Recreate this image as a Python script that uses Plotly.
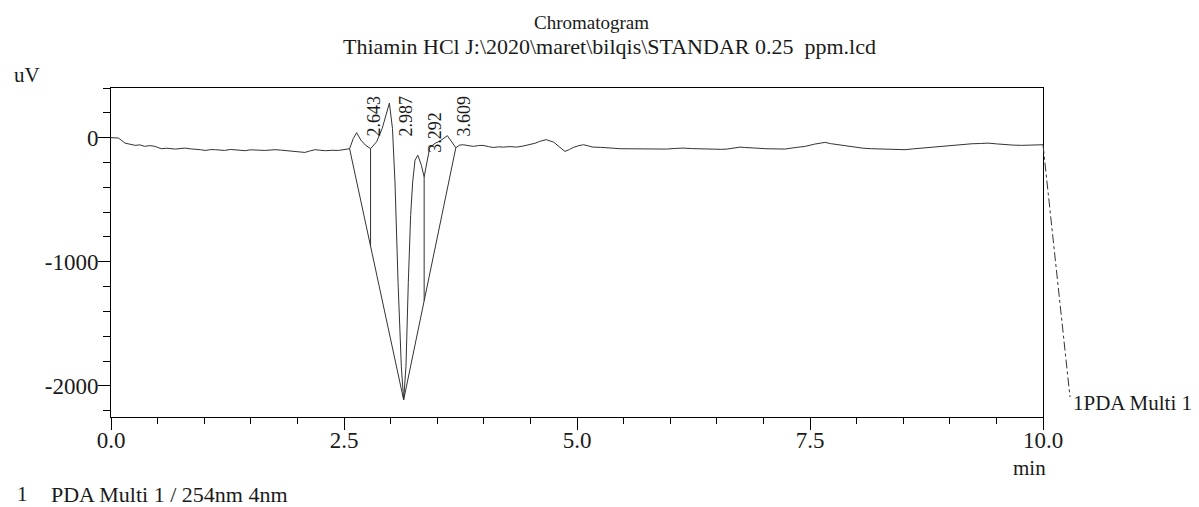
import plotly.graph_objects as go

# ---------------- data ----------------
signal_t = [0.00, 0.05, 0.08, 0.15, 0.20, 0.26, 0.31, 0.36, 0.42, 0.47, 0.54, 0.60, 0.69, 0.74, 0.79,
            0.85, 0.90, 0.96, 1.01, 1.07, 1.12, 1.17, 1.22, 1.28, 1.33, 1.38, 1.44, 1.49, 1.55, 1.60,
            1.65, 1.71, 1.76, 1.82, 1.87, 1.92, 1.97, 2.03, 2.08, 2.13, 2.19, 2.24, 2.30, 2.37, 2.44,
            2.50, 2.56, 2.60, 2.636, 2.68, 2.73, 2.785, 2.85, 2.91, 2.95, 2.987, 3.02, 3.047, 3.08,
            3.115, 3.14, 3.165, 3.19, 3.215, 3.237, 3.262, 3.292, 3.33, 3.36, 3.39, 3.42, 3.476, 3.53,
            3.609, 3.655, 3.70, 3.74, 3.78, 3.84, 3.89, 3.94, 3.99, 4.05, 4.10, 4.16, 4.21, 4.28, 4.35,
            4.42, 4.50, 4.55, 4.60, 4.67, 4.75, 4.82, 4.87, 4.92, 4.96, 5.02, 5.07, 5.12, 5.17, 5.25,
            5.32, 5.39, 5.46, 5.53, 5.60, 5.69, 5.78, 5.87, 5.96, 6.05, 6.14, 6.23, 6.32, 6.41, 6.50,
            6.55, 6.61, 6.68, 6.75, 6.80, 6.86, 6.94, 7.02, 7.12, 7.23, 7.34, 7.45, 7.55, 7.66, 7.72,
            7.80, 7.89, 7.98, 8.07, 8.16, 8.25, 8.34, 8.43, 8.52, 8.61, 8.70, 8.79, 8.88, 8.97, 9.06,
            9.15, 9.24, 9.33, 9.41, 9.50, 9.59, 9.68, 9.77, 9.88, 10.00]
signal_uv = [0, 0, -3, -44, -55, -62, -58, -70, -64, -70, -89, -85, -92, -86, -84,
             -90, -92, -97, -103, -96, -97, -101, -103, -95, -97, -102, -105, -98, -97, -101,
             -103, -99, -97, -100, -103, -106, -111, -115, -119, -108, -97, -101, -105, -102, -103,
             -96, -89, -6, 40, -19, -60, -89, -33, 75, 183, 278, 75, -356, -1166,
             -1842, -2112, -1842, -1166, -627, -356, -181, -141, -222, -316, -194, -80, -46, -27,
             16, -33, -81, -60, -57, -65, -70, -64, -62, -72, -79, -74, -76, -72, -76,
             -68, -57, -45, -30, -16, -36, -84, -111, -95, -79, -64, -57, -66, -76, -78,
             -79, -85, -89, -90, -92, -88, -89, -93, -92, -87, -84, -88, -89, -94, -97,
             -94, -92, -84, -76, -79, -79, -85, -89, -90, -92, -80, -70, -52, -38, -48,
             -57, -70, -79, -85, -89, -90, -92, -94, -97, -90, -84, -76, -70, -63, -57,
             -52, -49, -47, -44, -50, -57, -60, -62, -58, -57]

# integration baselines and peak drop lines
baseline_t = [2.56, 3.14, 3.70]
baseline_uv = [-89, -2112, -81]
drop_t = [2.785, 3.36]
drop_top_uv = [-89, -316]
drop_bottom_uv = [-874, -1314]

# peak labels
peak_times = [2.643, 2.987, 3.292, 3.609]
peak_labels = ["2.643", "2.987", "3.292", "3.609"]

x_ticks = [0.0, 2.5, 5.0, 7.5, 10.0]
y_ticks = [0, -1000, -2000]

title_line1 = "Chromatogram"
title_line2 = "Thiamin HCl J:\\2020\\maret\\bilqis\\STANDAR 0.25  ppm.lcd"
channel_label = "1PDA Multi 1"
footer_num = "1"
footer_text = "PDA Multi 1 / 254nm 4nm"

# ---------------- layout geometry ----------------
W, H = 1199, 507
L, R, T, B = 111, 1043, 88, 417
X_RANGE = [0, 10]
Y_RANGE = [-2250, 400]
FONT = "Liberation Serif, Times New Roman, serif"
INK = "#1a1a1a"
LINE = "#333333"


def px_x(p):
    return (p - L) / (R - L)


def px_y(p):
    return (B - p) / (B - T)


fig = go.Figure()

# signal
fig.add_trace(go.Scatter(x=signal_t, y=signal_uv, mode="lines",
                         line=dict(color=LINE, width=1), hoverinfo="skip"))
# integration baselines
fig.add_trace(go.Scatter(x=baseline_t, y=baseline_uv, mode="lines",
                         line=dict(color=LINE, width=1), hoverinfo="skip"))
# drop lines
for t, top, bot in zip(drop_t, drop_top_uv, drop_bottom_uv):
    fig.add_trace(go.Scatter(x=[t, t], y=[top, bot], mode="lines",
                             line=dict(color=LINE, width=1), hoverinfo="skip"))

# peak labels (rotated)
label_y = [173, 173, 47, 173]
for t, lab, ly in zip(peak_times, peak_labels, label_y):
    fig.add_annotation(x=t, y=ly, xref="x", yref="y", text=lab, showarrow=False,
                       textangle=-90, xanchor="center", yanchor="middle", xshift=17,
                       font=dict(family=FONT, size=18, color=INK))

# dash-dot leader to channel label
end_paper_y = (signal_uv[-1] - Y_RANGE[0]) / (Y_RANGE[1] - Y_RANGE[0])
fig.add_shape(type="line", xref="paper", yref="paper",
              x0=1.0, y0=end_paper_y, x1=px_x(1070), y1=px_y(397),
              line=dict(color=LINE, width=1, dash="dashdot"))


# texts
def txt(x, y, s, size, xanchor="center"):
    fig.add_annotation(x=px_x(x), y=px_y(y), xref="paper", yref="paper", text=s,
                       showarrow=False, xanchor=xanchor, yanchor="middle",
                       font=dict(family=FONT, size=size, color=INK))


txt(591, 22, title_line1, 19)
txt(609, 46, title_line2, 22)
txt(12, 75, "uV", 21, "left")
txt(1029, 468, "min", 21)
txt(1071, 403, channel_label, 21, "left")
txt(15, 494, footer_num, 21, "left")
txt(49, 494, footer_text, 22, "left")

fig.update_layout(
    width=W, height=H,
    margin=dict(l=L, r=W - R, t=T, b=H - B, pad=0),
    paper_bgcolor="white", plot_bgcolor="white",
    showlegend=False,
    font=dict(family=FONT, size=20, color=INK),
)
fig.update_xaxes(range=X_RANGE, tickvals=x_ticks, ticktext=[f"{v:.1f}" for v in x_ticks],
                 showgrid=False, zeroline=False,
                 showline=True, mirror=True, linecolor="black", linewidth=1,
                 ticks="outside", ticklen=12, tickcolor="black", tickwidth=1,
                 ticklabelstandoff=-10,
                 tickfont=dict(family=FONT, size=23, color=INK),
                 minor=dict(dtick=0.5, ticks="outside", ticklen=6, tickcolor="black", showgrid=False))
fig.update_yaxes(range=Y_RANGE, tickvals=y_ticks, ticktext=[str(v) for v in y_ticks],
                 showgrid=False, zeroline=False,
                 showline=True, mirror=True, linecolor="black", linewidth=1,
                 ticks="outside", ticklen=12, tickcolor="black", tickwidth=1,
                 ticklabelstandoff=-5,
                 tickfont=dict(family=FONT, size=23, color=INK),
                 minor=dict(dtick=200, ticks="outside", ticklen=7, tickcolor="black", showgrid=False))

fig.write_html("out.html",
               config={"displayModeBar": False},
               post_script="document.body.style.margin='0';document.body.style.overflow='hidden';")
